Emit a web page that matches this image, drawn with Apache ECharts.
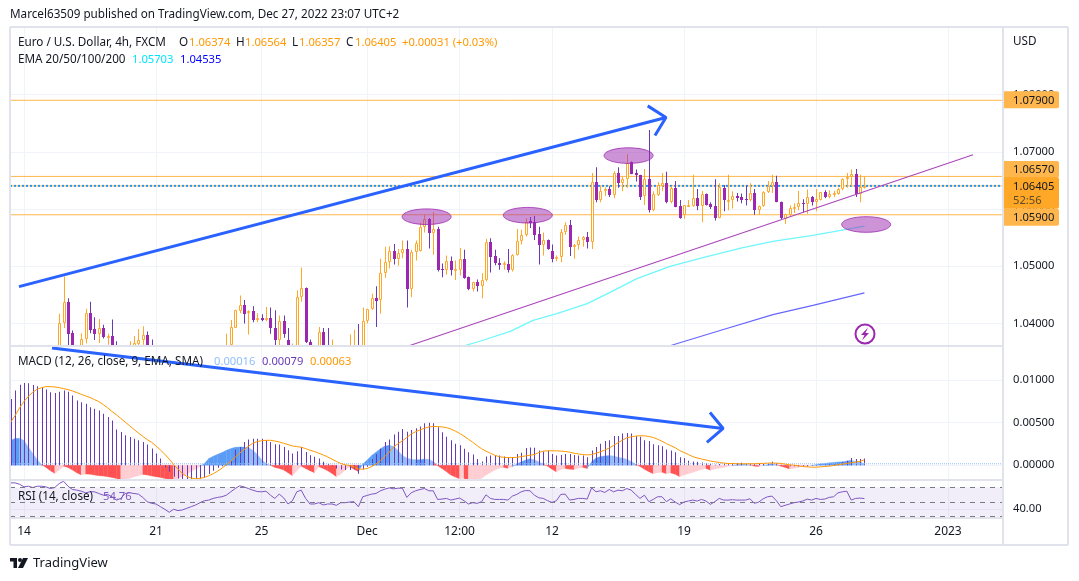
<!DOCTYPE html>
<html>
<head>
<meta charset="utf-8">
<title>EURUSD 4h</title>
<script src="https://cdn.jsdelivr.net/npm/echarts@6/dist/echarts.min.js"></script>
<style>
html, body { margin: 0; padding: 0; background: #fff; }
#chart { width: 1079px; height: 581px; }
</style>
</head>
<body>
<div id="chart"></div>
<script>
// bar number of each time axis label
var timeTicks = [3, 33, 57, 81, 102, 123, 153, 183, 213];
var timeLabels = ['14', '21', '25', 'Dec', '12:00', '12', '19', '26', '2023'];

var priceTicks = [1.04, 1.05, 1.06, 1.07, 1.08];
var macdTicks = [0, 0.005, 0.01];
var rsiTicks = [40];

// candles, bar 0 to 194. null = bar is below the visible price range
var opens = [
  null, null, 1.0356, null, null, null, null, null, null, null,
  null, 1.0358, 1.0401, 1.0438, 1.0383, null, 1.0355, 1.0373, 1.0418, 1.0391,
  1.0381, 1.0392, 1.0376, 1.0379, 1.0358, null, null, 1.0355, 1.0358, 1.0365,
  1.0371, 1.0380, 1.0358, null, null, null, null, null, null, null,
  null, null, null, null, null, null, null, null, null, 1.0355,
  1.0362, 1.0393, 1.0421, 1.0432, 1.0418, 1.0422, 1.0407, 1.0410, 1.0407, 1.0410,
  1.0392, 1.0371, 1.0404, 1.0372, 1.0355, 1.0358, 1.0446, 1.0462, 1.0367, null,
  1.0358, 1.0385, 1.0363, 1.0355, null, null, null, 1.0352, 1.0352, 1.0355,
  1.0355, 1.0404, 1.0426, 1.0445, 1.0441, 1.0488, 1.0507, 1.0527, 1.0513, 1.0523,
  1.0530, 1.0461, 1.0525, 1.0526, 1.0569, 1.0583, 1.0559, 1.0565, 1.0496, 1.0493,
  1.0510, 1.0493, 1.0493, 1.0513, 1.0481, 1.0461, 1.0472, 1.0465, 1.0476, 1.0542,
  1.0518, 1.0506, 1.0502, 1.0504, 1.0493, 1.0519, 1.0544, 1.0555, 1.0579, 1.0578,
  1.0557, 1.0538, 1.0546, 1.0527, 1.0513, 1.0516, 1.0560, 1.0573, 1.0534, 1.0537,
  1.0546, 1.0551, 1.0542, 1.0647, 1.0615, 1.0631, 1.0635, 1.0625, 1.0663, 1.0646,
  1.0652, 1.0682, 1.0663, 1.0660, 1.0622, 1.0652, 1.0599, 1.0625, 1.0641, 1.0645,
  1.0612, 1.0636, 1.0606, 1.0590, 1.0605, 1.0606, 1.0619, 1.0606, 1.0626, 1.0609,
  1.0606, 1.0585, 1.0637, 1.0615, 1.0616, 1.0623, 1.0621, 1.0618, 1.0615, 1.0628,
  1.0599, 1.0605, 1.0629, 1.0641, 1.0647, 1.0612, 1.0583, 1.0590, 1.0602, 1.0603,
  1.0610, 1.0608, 1.0621, 1.0613, 1.0616, 1.0630, 1.0621, 1.0625, 1.0627, 1.0635,
  1.0652, 1.0656, 1.0662, 1.0627, 1.06374
];
var closes = [
  null, null, 1.0358, null, null, null, null, null, null, null,
  null, 1.0401, 1.0438, 1.0382, 1.0355, null, 1.0373, 1.0418, 1.0389, 1.0381,
  1.0392, 1.0376, 1.0379, 1.0358, 1.0355, null, null, 1.0358, 1.0366, 1.0372,
  1.0380, 1.0358, 1.0355, null, null, null, null, null, null, null,
  null, null, null, null, null, null, null, null, null, 1.0358,
  1.0394, 1.0423, 1.0432, 1.0417, 1.0422, 1.0407, 1.0410, 1.0407, 1.0410, 1.0392,
  1.0371, 1.0404, 1.0382, 1.0358, 1.0358, 1.0446, 1.0462, 1.0367, 1.0358, null,
  1.0385, 1.0363, 1.0358, 1.0358, null, null, null, 1.0355, 1.0355, 1.0350,
  1.0405, 1.0426, 1.0445, 1.0440, 1.0488, 1.0507, 1.0527, 1.0513, 1.0523, 1.0530,
  1.0461, 1.0525, 1.0541, 1.0569, 1.0583, 1.0559, 1.0565, 1.0494, 1.0493, 1.0510,
  1.0493, 1.0495, 1.0513, 1.0480, 1.0461, 1.0472, 1.0465, 1.0476, 1.0542, 1.0517,
  1.0505, 1.0502, 1.0505, 1.0493, 1.0520, 1.0545, 1.0555, 1.0578, 1.0576, 1.0555,
  1.0538, 1.0546, 1.0531, 1.0512, 1.0516, 1.0560, 1.0573, 1.0533, 1.0537, 1.0546,
  1.0551, 1.0542, 1.0647, 1.0615, 1.0631, 1.0635, 1.0625, 1.0663, 1.0646, 1.0652,
  1.0680, 1.0662, 1.0659, 1.0621, 1.0652, 1.0599, 1.0627, 1.0642, 1.0645, 1.0612,
  1.0636, 1.0604, 1.0584, 1.0607, 1.0607, 1.0619, 1.0606, 1.0626, 1.0607, 1.0603,
  1.0585, 1.0638, 1.0615, 1.0616, 1.0623, 1.0620, 1.0616, 1.0615, 1.0628, 1.0599,
  1.0605, 1.0630, 1.0641, 1.0647, 1.0613, 1.0584, 1.0591, 1.0602, 1.0603, 1.0610,
  1.0608, 1.0621, 1.0613, 1.0617, 1.0629, 1.0621, 1.0627, 1.0628, 1.0635, 1.0652,
  1.0656, 1.0661, 1.0627, 1.0638, 1.06405
];
var highs = [
  null, null, 1.0363, null, null, null, null, null, null, null,
  null, 1.0417, 1.0482, 1.0444, 1.0388, null, 1.0383, 1.0426, 1.0438, 1.0411,
  1.0408, 1.0398, 1.0382, 1.0407, 1.0369, null, null, 1.0369, 1.0378, 1.0390,
  1.0395, 1.0386, 1.0372, null, null, null, null, null, null, null,
  null, null, null, null, null, null, null, null, null, 1.0382,
  1.0406, 1.0424, 1.0449, 1.0441, 1.0423, 1.0430, 1.0418, 1.0416, 1.0429, 1.0428,
  1.0423, 1.0414, 1.0414, 1.0392, 1.0365, 1.0458, 1.0498, 1.0463, 1.0372, null,
  1.0394, 1.0392, 1.0392, 1.0372, null, null, null, 1.0381, 1.0389, 1.0399,
  1.0428, 1.0426, 1.0452, 1.0465, 1.0513, 1.0534, 1.0535, 1.0539, 1.0530, 1.0545,
  1.0545, 1.0529, 1.0545, 1.0576, 1.0590, 1.0584, 1.0595, 1.0569, 1.0505, 1.0519,
  1.0517, 1.0510, 1.0532, 1.0529, 1.0482, 1.0473, 1.0477, 1.0488, 1.0548, 1.0549,
  1.0529, 1.0514, 1.0509, 1.0530, 1.0521, 1.0565, 1.0564, 1.0584, 1.0586, 1.0588,
  1.0569, 1.0559, 1.0547, 1.0538, 1.0519, 1.0565, 1.0577, 1.0581, 1.0539, 1.0552,
  1.0553, 1.0560, 1.0663, 1.0673, 1.0641, 1.0638, 1.0640, 1.0666, 1.0673, 1.0657,
  1.0696, 1.0683, 1.0669, 1.0660, 1.0670, 1.0738, 1.0631, 1.0647, 1.0663, 1.0665,
  1.0640, 1.0649, 1.0616, 1.0607, 1.0616, 1.0660, 1.0635, 1.0632, 1.0627, 1.0612,
  1.0652, 1.0645, 1.0642, 1.0660, 1.0631, 1.0628, 1.0627, 1.0641, 1.0645, 1.0635,
  1.0606, 1.0631, 1.0649, 1.0660, 1.0658, 1.0613, 1.0592, 1.0606, 1.0610, 1.0632,
  1.0617, 1.0634, 1.0623, 1.0635, 1.0630, 1.0633, 1.0633, 1.0632, 1.0637, 1.0654,
  1.0663, 1.0669, 1.0670, 1.0660, 1.06564
];
var lows = [
  null, null, 1.0355, null, null, null, null, null, null, null,
  null, 1.0355, 1.0392, 1.0355, 1.0350, null, 1.0350, 1.0365, 1.0383, 1.0371,
  1.0366, 1.0374, 1.0363, 1.0355, 1.0352, null, null, 1.0352, 1.0355, 1.0358,
  1.0363, 1.0355, 1.0350, null, null, null, null, null, null, null,
  null, null, null, null, null, null, null, null, null, 1.0352,
  1.0358, 1.0392, 1.0418, 1.0400, 1.0381, 1.0402, 1.0402, 1.0404, 1.0404, 1.0382,
  1.0358, 1.0358, 1.0375, 1.0355, 1.0352, 1.0355, 1.0438, 1.0366, 1.0355, null,
  1.0355, 1.0358, 1.0355, 1.0352, null, null, null, 1.0352, 1.0352, 1.0348,
  1.0352, 1.0400, 1.0424, 1.0394, 1.0417, 1.0480, 1.0496, 1.0503, 1.0501, 1.0514,
  1.0428, 1.0446, 1.0510, 1.0526, 1.0559, 1.0531, 1.0520, 1.0491, 1.0481, 1.0485,
  1.0484, 1.0476, 1.0484, 1.0478, 1.0458, 1.0456, 1.0456, 1.0444, 1.0474, 1.0489,
  1.0502, 1.0494, 1.0494, 1.0489, 1.0491, 1.0519, 1.0538, 1.0552, 1.0567, 1.0546,
  1.0503, 1.0519, 1.0529, 1.0507, 1.0509, 1.0507, 1.0555, 1.0518, 1.0513, 1.0529,
  1.0534, 1.0531, 1.0530, 1.0612, 1.0612, 1.0623, 1.0621, 1.0619, 1.0637, 1.0631,
  1.0637, 1.0661, 1.0648, 1.0616, 1.0607, 1.0594, 1.0596, 1.0623, 1.0631, 1.0610,
  1.0610, 1.0603, 1.0583, 1.0583, 1.0604, 1.0604, 1.0598, 1.0577, 1.0606, 1.0600,
  1.0580, 1.0584, 1.0596, 1.0598, 1.0601, 1.0613, 1.0610, 1.0606, 1.0613, 1.0590,
  1.0590, 1.0604, 1.0628, 1.0628, 1.0612, 1.0582, 1.0574, 1.0587, 1.0593, 1.0598,
  1.0594, 1.0592, 1.0606, 1.0596, 1.0615, 1.0619, 1.0619, 1.0621, 1.0625, 1.0633,
  1.0637, 1.0640, 1.0621, 1.0612, 1.06357
];

var macdLine = [
  0.00776, 0.00873, 0.00943, 0.00962, 0.00958, 0.00939, 0.00923, 0.00912, 0.00885, 0.00854,
  0.00846, 0.00861, 0.00873, 0.00861, 0.00815, 0.00757, 0.00737, 0.00718, 0.00679, 0.00660,
  0.00640, 0.00601, 0.00563, 0.00524, 0.00419, 0.00388, 0.00349, 0.00330, 0.00310, 0.00291,
  0.00272, 0.00241, 0.00194, 0.00136, 0.00078, -0.00027, -0.00078, -0.00136, -0.00155, -0.00167,
  -0.00167, -0.00167, -0.00167, -0.00155, -0.00144, -0.00105, -0.00066, -0.00031, -0.00012, 0.00008,
  0.00058, 0.00182, 0.00213, 0.00272, 0.00299, 0.00310, 0.00310, 0.00310, 0.00291, 0.00272,
  0.00244, 0.00241, 0.00213, 0.00175, 0.00136, 0.00163, 0.00213, 0.00155, 0.00116, 0.00097,
  0.00078, 0.00039, 0.00012, 0, -0.00039, -0.0005, -0.00058, -0.00058, -0.00048, -0.001,
  -0.00048, -0.0002, 0.00072, 0.00132, 0.00192, 0.00272, 0.003, 0.0036, 0.00392, 0.00424,
  0.00392, 0.00412, 0.00432, 0.00452, 0.00492, 0.00496, 0.00492, 0.00444, 0.00384, 0.00332,
  0.00292, 0.00252, 0.00232, 0.00192, 0.00152, 0.00124, 0.00072, 0.00044, 0.001, 0.00112,
  0.00112, 0.00112, 0.001, 0.00092, 0.00092, 0.00132, 0.00144, 0.002, 0.00208, 0.00204,
  0.00172, 0.0016, 0.00172, 0.00132, 0.00112, 0.0012, 0.00132, 0.00132, 0.0012, 0.00112,
  0.00112, 0.00092, 0.00172, 0.00212, 0.00252, 0.00284, 0.00292, 0.0034, 0.0034, 0.00372,
  0.00376, 0.00372, 0.0034, 0.00332, 0.00292, 0.00284, 0.00244, 0.00232, 0.0022, 0.00184,
  0.00172, 0.00152, 0.00092, 0.00084, 0.00052, 0.00044, 0.0004, 0.00032, 0.00024, 0.00012,
  0.00004, 0.00012, 0.0002, 0.00024, 0.00024, 0.00024, 0.00028, 0.00024, 0.0002, 0.00012,
  0.00012, 0.00012, 0.0002, 0.0004, 0.00024, 0.00004, -0.00008, -0.00012, -0.00012, -0.00016,
  -0.00016, -0.00016, -0.00008, -0.00004, 0.00004, 0.00004, 0.00008, 0.00012, 0.0002, 0.00036,
  0.00052, 0.00084, 0.00072, 0.00072, 0.00079
];
var signalLine = [
  0.00504, 0.00582, 0.00671, 0.00745, 0.00807, 0.00854, 0.00889, 0.00908, 0.0092, 0.0092,
  0.00916, 0.00908, 0.00896, 0.00885, 0.00869, 0.0085, 0.0083, 0.00811, 0.00792, 0.00768,
  0.00745, 0.0071, 0.00671, 0.00629, 0.0059, 0.00547, 0.00504, 0.00462, 0.00419, 0.00376,
  0.00338, 0.00299, 0.00268, 0.00225, 0.00178, 0.00128, 0.0007, 0.00008, -0.00047, -0.00097,
  -0.00132, -0.00151, -0.00159, -0.00155, -0.00144, -0.00124, -0.00101, -0.0007, -0.00035, 0.00004,
  0.00047, 0.00093, 0.0014, 0.00182, 0.00221, 0.00256, 0.00275, 0.00287, 0.00291, 0.00291,
  0.00283, 0.00272, 0.00256, 0.00241, 0.00225, 0.00217, 0.0021, 0.00194, 0.00175, 0.00159,
  0.0014, 0.0012, 0.00097, 0.0007, 0.00043, 0.00019, 0.00004, -0.00004, -0.0002, -0.00044,
  -0.00048, -0.0004, -0.00016, 0.00012, 0.00052, 0.001, 0.00152, 0.00212, 0.00252, 0.00284,
  0.00324, 0.00364, 0.00392, 0.00412, 0.00432, 0.00448, 0.00452, 0.00452, 0.00448, 0.0044,
  0.00424, 0.004, 0.00372, 0.0034, 0.00304, 0.00268, 0.00228, 0.00192, 0.00164, 0.0014,
  0.00116, 0.001, 0.00092, 0.00088, 0.00088, 0.00092, 0.001, 0.00108, 0.00116, 0.00124,
  0.00148, 0.00164, 0.00168, 0.00168, 0.00168, 0.00164, 0.0016, 0.00152, 0.0014, 0.00132,
  0.00124, 0.0012, 0.00124, 0.0014, 0.00156, 0.00176, 0.002, 0.00232, 0.00264, 0.00292,
  0.0032, 0.00332, 0.0034, 0.00344, 0.00344, 0.00336, 0.00324, 0.00304, 0.0028, 0.00252,
  0.00228, 0.00204, 0.00172, 0.00148, 0.00124, 0.001, 0.00084, 0.00072, 0.0006, 0.00048,
  0.0004, 0.00032, 0.00024, 0.0002, 0.0002, 0.00016, 0.00016, 0.00016, 0.00016, 0.00016,
  0.0002, 0.0002, 0.00024, 0.00024, 0.00024, 0.0002, 0.00012, 0.00004, 0, -0.00008,
  -0.00016, -0.0002, -0.00024, -0.00024, -0.0002, -0.00016, -0.00012, -0.00004, 0.00004, 0.00012,
  0.0002, 0.00028, 0.00036, 0.00044, 0.00063
];
var histValues = [
  0.0029, 0.00314, 0.00314, 0.0029, 0.00213, 0.00136, 0.00066, 0.00008, -0.00027, -0.00066,
  -0.00097, -0.00058, -0.00012, -0.00027, -0.00058, -0.00089, -0.00116, -0.00105, -0.00107, -0.00116,
  -0.00124, -0.00128, -0.00136, -0.00144, -0.00155, -0.00175, -0.00163, -0.00155, -0.00136, -0.00124,
  -0.00109, -0.00116, -0.00128, -0.00136, -0.00144, -0.00155, -0.00167, -0.00175, -0.0016, -0.00135,
  -0.00105, -0.00075, -0.00045, -0.00015, 0.00019, 0.00078, 0.00105, 0.00128, 0.00147, 0.00175,
  0.00194, 0.0021, 0.00213, 0.00213, 0.00206, 0.00175, 0.00128, 0.00066, 0.00019, 0,
  -0.00027, -0.00039, -0.00058, -0.00089, -0.00124, -0.00066, -0.00012, -0.00039, -0.00066, -0.00089,
  -0.00019, -0.00039, -0.00066, -0.00097, -0.00136, -0.00105, -0.00058, -0.00019, -0.00048, -0.00076,
  0.00012, 0.0006, 0.00112, 0.00152, 0.00192, 0.00224, 0.00232, 0.0022, 0.00172, 0.00112,
  0.00084, 0.00068, 0.00064, 0.00064, 0.00072, 0.00068, 0.00044, -0.00008, -0.0004, -0.00076,
  -0.00116, -0.0014, -0.0016, -0.00156, -0.0018, -0.00172, -0.00164, -0.00156, -0.00116, -0.00088,
  -0.00056, -0.00036, -0.00028, -0.00036, -0.0002, 0.00012, 0.0004, 0.0006, 0.00076, 0.00064,
  0.0004, 0.00012, -0.00012, -0.00048, -0.0008, -0.00052, -0.0004, -0.00048, -0.00052, -0.00036,
  -0.00028, -0.0004, 0.0004, 0.00084, 0.001, 0.00108, 0.00112, 0.00108, 0.00092, 0.00084,
  0.00068, 0.00044, 0.00012, -0.00016, -0.00048, -0.00076, -0.001, -0.00088, -0.00084, -0.001,
  -0.00092, -0.00108, -0.00136, -0.00116, -0.001, -0.00084, -0.00068, -0.00052, -0.0004, -0.0006,
  -0.00044, -0.00036, -0.00028, -0.00012, -0.00008, 0.00004, 0.00008, 0.00008, 0.00004, -0.00012,
  -0.00016, -0.00008, 0.00004, 0.00016, 0.00008, -0.00012, -0.00028, -0.00044, -0.00036, -0.00028,
  -0.00016, -0.00012, -0.00004, 0.00004, 0.00016, 0.0002, 0.00028, 0.00032, 0.00036, 0.0004,
  0.00048, 0.00056, 0.00044, 0.0004, 0.00016
];
var rsiValues = [
  76.4, 76.4, 74.5, 70.9, 71.8, 70, 71.8, 71.8, 70.9, 68.6,
  70, 75.5, 78.6, 71.8, 67.3, 66.4, 65, 62.7, 64.1, 64.1,
  61.8, 59.5, 60.5, 57.3, 52.7, 55, 61.8, 62.7, 61.8, 60.9,
  56.4, 50.5, 48.2, 47.3, 43.6, 40, 35.9, 40, 38.2, 39.1,
  41.4, 43.6, 45.9, 49.1, 51.8, 52.7, 55, 56.4, 57.3, 59.5,
  64.1, 68.6, 72.3, 70.9, 68.6, 66.4, 64.5, 64.1, 65, 59.5,
  55, 60.9, 55.9, 47.3, 51.8, 64.1, 66.4, 55, 47.3, 47.3,
  49.1, 45.9, 47.3, 47.3, 45.5, 49.1, 49.1, 50, 50.5, 43.6,
  57.3, 59.1, 60.9, 61.8, 65.5, 67.7, 69.5, 68.2, 69.1, 69.1,
  56.4, 62.7, 65.5, 67.3, 68.6, 65.5, 65.5, 53.6, 54.1, 55,
  52.7, 54.1, 55.5, 51.8, 47.3, 49.1, 48.2, 50.5, 60, 55,
  53.6, 53.6, 53.6, 52.7, 58.2, 60.5, 64.1, 65.9, 65.5, 59.5,
  55.9, 55, 51.8, 49.5, 51.8, 60.5, 60.9, 52.7, 53.6, 55,
  55, 54.1, 69.5, 64.1, 65.5, 63.2, 67.3, 64.1, 66.4, 65.5,
  68.6, 66.4, 60.5, 55, 59.5, 50.5, 53.6, 57.3, 57.3, 50.5,
  54.5, 50, 46.4, 50, 51.4, 52.7, 51.4, 53.6, 51.4, 46.8,
  50.5, 55, 52.7, 52.7, 53.2, 52.7, 52.7, 52.7, 54.5, 48.2,
  50, 54.5, 57.3, 58.2, 51.8, 43.6, 45.5, 47.3, 49.1, 50,
  51.4, 54.1, 52.7, 55, 53.6, 54.1, 56.4, 57.3, 62.7, 64.1,
  65, 52.7, 55, 55.5, 54.76
];

// indicator lines, [bar, price]
var emaCyan = [[103.2, 1.03615], [106.6, 1.0369], [113.5, 1.03864], [118.7, 1.04056], [124.1, 1.04173], [131, 1.04348], [136.2, 1.04545], [142.3, 1.04784], [149.8, 1.04999], [157.3, 1.0515], [166.4, 1.05325], [173.2, 1.05435], [182.3, 1.0554], [194, 1.05703]];
var emaBlue = [[150, 1.03615], [161.2, 1.03877], [173.2, 1.04156], [182.3, 1.04318], [194, 1.04535]];

// drawings on the chart, [bar, value]
var trendLine = [[90.7, 1.03615], [218.7, 1.06948]];
var arrowUp = [[1.86, 1.04644], [148.9, 1.07599]];
var arrowUpHead = [[144.75, 1.07803], [148.9, 1.07599], [146.4, 1.07284]];
var arrowDown = [[9.36, 0.01372], [161.9, 0.0043]];
var arrowDownHead = [[158.9, 0.00616], [161.9, 0.0043], [158.2, 0.00267]];
var ellipseCenters = [[94.5, 1.05866], [117.5, 1.05892], [140.4, 1.06934], [194.4, 1.0573]];

var xMin = -0.18, xMax = 225.5;
var priceMin = 1.03607, priceMax = 1.09181;
var macdMin = -0.00174, macdMax = 0.01384;
var rsiMin = 28, rsiMax = 79;

var ORANGE = '#ffa726', ORANGE_LINE = '#ffb74d', PURPLE = '#9c27b0', INDIGO = '#673ab7';
var GRID = '#f0f3fa', BORDER = '#e0e3eb', TEXT = '#131722';
var FONT = '"Noto Sans", sans-serif';
var NUM_SIZE = 11.2;

var myChart = echarts.init(document.getElementById('chart'));

var barIndex = histValues.map(function(v, i) { return i; });
function pairs(values) {
    return values.map(function(v, i) { return [i, v]; });
}
function xAxisFor(grid, showLabels) {
    return {
        type: 'value', gridIndex: grid, min: xMin, max: xMax,
        axisLine: { show: false },
        axisTick: { show: false, customValues: timeTicks },
        splitLine: { show: true, lineStyle: { color: GRID, width: 1 } },
        axisLabel: {
            show: showLabels, customValues: timeTicks, color: TEXT, fontSize: 12, fontFamily: FONT, margin: 8,
            formatter: function(v) { return timeLabels[timeTicks.indexOf(v)]; }
        }
    };
}
function yAxisFor(grid, min, max, ticks, digits) {
    return {
        type: 'value', gridIndex: grid, position: 'right', min: min, max: max, scale: true,
        axisLine: { show: false },
        axisTick: { show: false, customValues: ticks },
        splitLine: { show: true, lineStyle: { color: GRID, width: 1 } },
        axisLabel: {
            customValues: ticks, color: TEXT, fontSize: NUM_SIZE, fontFamily: FONT, margin: 10,
            formatter: function(v) { return v.toFixed(digits); }
        }
    };
}
function lineOn(grid, points, color, width, type, z) {
    return {
        type: 'line', xAxisIndex: grid, yAxisIndex: grid, data: points, showSymbol: false, silent: true,
        lineStyle: { color: color, width: width, type: type || 'solid' }, z: z || 3, animation: false
    };
}
function levelOn(grid, value, color, type) {
    return lineOn(grid, [[xMin, value], [xMax, value]], color, 1, type, 3);
}

// candles: orange hollow going up, purple filled going down
var candleData = [];
barIndex.forEach(function(i) {
    if (opens[i] !== null) candleData.push([i, opens[i], closes[i], lows[i], highs[i]]);
});
function renderCandle(params, api) {
    var i = api.value(0), o = api.value(1), c = api.value(2);
    var x = Math.round(api.coord([i, o])[0]);
    var yO = Math.round(api.coord([i, o])[1]);
    var yC = Math.round(api.coord([i, c])[1]);
    var yL = api.coord([i, api.value(3)])[1];
    var yH = api.coord([i, api.value(4)])[1];
    var up = c >= o;
    var wick = {
        type: 'rect', shape: { x: x, y: yH, width: 1, height: yL - yH },
        style: { fill: up ? ORANGE : INDIGO }
    };
    var body;
    if (up) {
        body = {
            type: 'rect',
            shape: { x: x - 0.5, y: yC + 0.5, width: 2, height: Math.max(yO - yC - 1, 1) },
            style: { fill: '#fff', stroke: ORANGE, lineWidth: 1 }
        };
    } else {
        body = {
            type: 'rect', shape: { x: x - 1, y: yO, width: 3, height: Math.max(yC - yO, 1) },
            style: { fill: PURPLE }
        };
    }
    return { type: 'group', children: [wick, body] };
}

// macd histogram as an area, each step has its own colour
function histColor(i) {
    var v = histValues[i], prev = i > 0 ? histValues[i - 1] : v - 1;
    if (v >= 0) return v >= prev ? '#5b9cf6' : '#90bff9';
    return v < prev ? '#ff5252' : '#ffcdd2';
}
function renderHist(params, api) {
    var i = api.value(0);
    if (i === 0) return;
    var a = api.coord([i - 1, 0]), b = api.coord([i - 1, histValues[i - 1]]);
    var c = api.coord([i, histValues[i]]), d = api.coord([i, 0]);
    return {
        type: 'polygon', shape: { points: [a, b, c, d] },
        style: { fill: histColor(i), stroke: histColor(i), lineWidth: 0.3 }
    };
}
// macd line is plotted as thin columns from the zero line
function renderMacdBar(params, api) {
    var i = api.value(0);
    var top = api.coord([i, api.value(1)]), zero = api.coord([i, 0]);
    var y1 = Math.min(top[1], zero[1]), y2 = Math.max(top[1], zero[1]);
    return {
        type: 'rect', shape: { x: Math.round(top[0]), y: y1, width: 1, height: Math.max(y2 - y1, 0.5) },
        style: { fill: INDIGO }
    };
}

function renderEllipse(params, api) {
    var p = api.coord([api.value(0), api.value(1)]);
    return {
        type: 'ellipse', shape: { cx: p[0], cy: p[1], rx: 24.5, ry: 7.8 },
        style: { fill: 'rgba(156,39,176,0.5)', stroke: 'rgba(156,39,176,0.8)', lineWidth: 1 }
    };
}

// tags on the price scale, up = px from the price to the tag top (they push each other apart)
var priceTags = [
    { price: 1.079, up: 9, h: 17, text: '1.07900', color: ORANGE_LINE },
    { price: 1.0657, up: 15.5, h: 17, text: '1.06570', color: ORANGE_LINE },
    { price: 1.059, up: 6, h: 17, text: '1.05900', color: ORANGE_LINE },
    { price: 1.06405, up: 8.5, h: 31.5, text: '1.06405', sub: '52:56', color: ORANGE }
];
function renderTag(params, api) {
    var tag = priceTags[api.value(0)];
    var p = api.coord([xMax, tag.price]);
    var top = p[1] - tag.up;
    var kids = [{
        type: 'rect', shape: { x: p[0], y: top, width: 56, height: tag.h, r: [0, 2, 2, 0] },
        style: { fill: tag.color }
    }, {
        type: 'text', x: p[0] + 10, y: top + 9,
        style: { text: tag.text, fill: TEXT, font: NUM_SIZE + 'px ' + FONT, textVerticalAlign: 'middle' }
    }];
    if (tag.sub) {
        kids.push({
            type: 'text', x: p[0] + 10, y: top + 23,
            style: { text: tag.sub, fill: '#5d4a24', font: NUM_SIZE + 'px ' + FONT, textVerticalAlign: 'middle' }
        });
    }
    return { type: 'group', children: kids };
}

function txt(x, y, s, color, size) {
    return {
        type: 'text', x: x, y: y + 1, z: 20, silent: true,
        style: { text: s, fill: color || TEXT, font: (size || 11.7) + 'px ' + FONT, textVerticalAlign: 'middle' }
    };
}
function num(x, y, s, color) {
    return txt(x, y, s, color, NUM_SIZE);
}
function rule(x1, y1, x2, y2) {
    return {
        type: 'line', z: 15, silent: true, shape: { x1: x1, y1: y1, x2: x2, y2: y2 },
        style: { stroke: BORDER, lineWidth: 2 }
    };
}
var VAL = '#ff9800';

// current price line: blue dots with orange between them
var lastOrange = levelOn(0, 1.06405, ORANGE_LINE, [2, 2]);
lastOrange.lineStyle.dashOffset = 2;
var lastBlue = levelOn(0, 1.06405, '#2196f3', [2, 2]);
lastBlue.lineStyle.width = 2;

var option = {
    animation: false,
    backgroundColor: '#fff',
    grid: [
        { left: 10, top: 27, width: 993, height: 319 },
        { left: 10, top: 347, width: 993, height: 133 },
        { left: 10, top: 481, width: 993, height: 37 }
    ],
    xAxis: [xAxisFor(0, false), xAxisFor(1, false), xAxisFor(2, true)],
    yAxis: [
        yAxisFor(0, priceMin, priceMax, priceTicks, 5),
        yAxisFor(1, macdMin, macdMax, macdTicks, 5),
        yAxisFor(2, rsiMin, rsiMax, rsiTicks, 2)
    ],
    series: [
        levelOn(0, 1.079, ORANGE_LINE),
        levelOn(0, 1.0657, ORANGE_LINE),
        levelOn(0, 1.059, ORANGE_LINE),
        lastOrange,
        lastBlue,
        lineOn(0, emaCyan, '#6ff7fb', 1.3),
        lineOn(0, emaBlue, '#6666ff', 1.2),
        {
            type: 'custom', xAxisIndex: 0, yAxisIndex: 0, data: candleData, renderItem: renderCandle,
            encode: { x: 0, y: [1, 2, 3, 4] }, clip: true, z: 4, silent: true
        },
        lineOn(0, trendLine, '#ab47bc', 1.2, 'solid', 5),
        {
            type: 'custom', xAxisIndex: 0, yAxisIndex: 0, data: ellipseCenters, renderItem: renderEllipse,
            encode: { x: 0, y: 1 }, z: 6, silent: true
        },
        lineOn(0, arrowUp, '#2962ff', 3, 'solid', 7),
        lineOn(0, arrowUpHead, '#2962ff', 3, 'solid', 7),
        {
            type: 'custom', xAxisIndex: 0, yAxisIndex: 0, data: priceTags.map(function(t, i) { return [i, t.price]; }),
            renderItem: renderTag, encode: { y: 1 }, clip: false, z: 12, silent: true
        },
        {
            type: 'custom', xAxisIndex: 1, yAxisIndex: 1, data: pairs(histValues), renderItem: renderHist,
            encode: { x: 0, y: 1 }, z: 2, silent: true
        },
        levelOn(1, 0.00016, '#90bff9', 'dotted'),
        {
            type: 'custom', xAxisIndex: 1, yAxisIndex: 1, data: pairs(macdLine), renderItem: renderMacdBar,
            encode: { x: 0, y: 1 }, z: 3, silent: true
        },
        lineOn(1, pairs(signalLine), VAL, 1, 'solid', 4),
        lineOn(1, arrowDown, '#2962ff', 3, 'solid', 7),
        lineOn(1, arrowDownHead, '#2962ff', 3, 'solid', 7),
        {
            type: 'line', xAxisIndex: 2, yAxisIndex: 2, data: pairs(rsiValues), showSymbol: false, silent: true,
            lineStyle: { color: '#7e57c2', width: 1 }, z: 4,
            markArea: {
                silent: true, itemStyle: { color: 'rgba(126,87,194,0.1)' },
                data: [[{ yAxis: 70 }, { yAxis: 30 }]]
            },
            markLine: {
                silent: true, symbol: 'none', label: { show: false },
                lineStyle: { color: '#787b86', type: [5, 5], width: 1 },
                data: [{ yAxis: 70 }, { yAxis: 50 }, { yAxis: 30 }]
            }
        }
    ],
    graphic: [
        txt(10, 14, 'Marcel63509 published on TradingView.com, Dec 27, 2022 23:07 UTC+2'),
        rule(10, 27, 1068, 27), rule(10, 27, 10, 545), rule(1068, 27, 1068, 545), rule(10, 545, 1068, 545),
        rule(1003, 27, 1003, 545), rule(10, 346, 1003, 346), rule(10, 480, 1003, 480), rule(10, 518, 1003, 518),
        txt(1013, 41, 'USD'),
        txt(18, 42, 'Euro / U.S. Dollar, 4h, FXCM'),
        txt(179, 42, 'O'), num(189, 42, '1.06374', VAL),
        txt(236, 42, 'H'), num(245, 42, '1.06564', VAL),
        txt(292, 42, 'L'), num(299, 42, '1.06357', VAL),
        txt(346, 42, 'C'), num(355, 42, '1.06405', VAL),
        num(402, 42, '+0.00031 (+0.03%)', VAL),
        txt(18, 59, 'EMA 20/50/100/200'),
        num(132, 59, '1.05703', '#00e5ff'), num(180, 59, '1.04535', '#0000ff'),
        txt(18, 361, 'MACD (12, 26, close, 9, EMA, SMA)'),
        num(214, 361, '0.00016', '#90bff9'), num(262, 361, '0.00079', INDIGO), num(310, 361, '0.00063', VAL),
        txt(18, 496, 'RSI (14, close)'), num(103, 496, '54.76', '#7e57c2'),
        // lightning badge
        {
            type: 'circle', z: 15, silent: true, shape: { cx: 865, cy: 334, r: 9.5 },
            style: { fill: '#fff', stroke: PURPLE, lineWidth: 2 }
        },
        {
            type: 'polygon', z: 16, silent: true,
            shape: { points: [[868, 327.5], [861, 335], [864.5, 335], [862, 340.5], [869, 333], [865.5, 333]] },
            style: { fill: PURPLE }
        },
        // logo
        {
            type: 'polygon', z: 16, silent: true,
            shape: { points: [[10, 558], [17, 558], [17, 568], [13.5, 568], [13.5, 561.5], [10, 561.5]] },
            style: { fill: TEXT }
        },
        { type: 'circle', z: 16, silent: true, shape: { cx: 20, cy: 560, r: 2 }, style: { fill: TEXT } },
        {
            type: 'polygon', z: 16, silent: true,
            shape: { points: [[23, 558], [28, 558], [23, 568], [18, 568]] },
            style: { fill: TEXT }
        },
        txt(33, 562, 'TradingView', TEXT, 13)
    ]
};
myChart.setOption(option);
</script>
</body>
</html>
